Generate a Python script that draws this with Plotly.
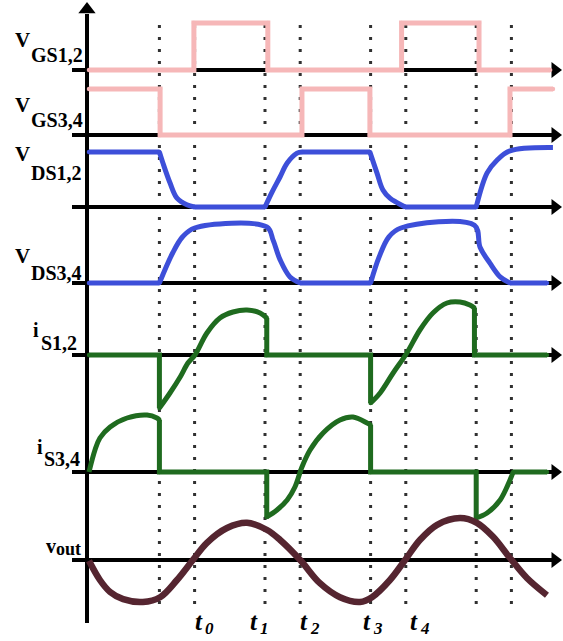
import plotly.graph_objects as go

W, H = 563, 641

# ---------------- data (time in switching-interval units) ----------------
dash_times = [2, 3, 5, 6, 8, 9, 11, 12]
t_label_main = ["t", "t", "t", "t", "t"]
t_label_sub = ["0", "1", "2", "3", "4"]

vgs12_t = [0, 2.98, 2.98, 5.08, 5.08, 8.88, 8.88, 11.08, 11.08, 13.1]
vgs12_v = [0, 0, 1, 1, 0, 0, 1, 1, 0, 0]

vgs34_t = [0, 2.02, 2.02, 6.05, 6.05, 7.98, 7.98, 11.96, 11.96, 13.18]
vgs34_v = [1, 1, 0, 0, 1, 1, 0, 0, 1, 1]

vds12_t = [0, 2.0, 2.1, 2.3, 2.5, 2.78, 3.0, 5.0, 5.2, 5.43, 5.63, 5.91, 6.05,
           7.98, 8.18, 8.35, 8.55, 8.75, 8.98, 11.0, 11.31, 11.59, 11.96, 13.18]
vds12_v = [1, 1, 0.8, 0.44, 0.16, 0.04, 0, 0, 0.27, 0.55, 0.8, 0.98, 1.0,
           1.0, 0.62, 0.31, 0.16, 0.08, 0, 0, 0.62, 0.85, 1.02, 1.08]

vds34_t = [0, 2.0, 2.38, 2.66, 3.0, 5.05, 5.23, 5.43, 5.71, 6.0, 8.0, 8.24, 8.52, 8.86,
           10.95, 11.11, 11.39, 11.68, 11.96, 13.01]
vds34_v = [0, 0, 0.55, 0.84, 1.0, 1.02, 0.78, 0.42, 0.11, 0, 0, 0.47, 0.84, 1.0,
           1.05, 0.65, 0.36, 0.11, 0, 0]

is12_t = [0, 2.0, 2.0, 2.3, 2.59, 2.81, 3.01, 3.35, 3.72, 4.09, 4.49, 4.86, 5.05, 5.05,
          8.0, 8.0, 8.27, 8.64, 9.03, 9.4, 9.77, 10.17, 10.54, 10.82, 10.95, 10.95, 13.01]
is12_v = [0, 0, -1.06, -0.76, -0.44, -0.16, 0, 0.44, 0.74, 0.86, 0.9, 0.84, 0.74, 0,
          0, -0.96, -0.76, -0.36, 0.04, 0.5, 0.84, 1.04, 1.06, 1.0, 0.94, 0, 0]

is34_t = [0, 0.17, 0.31, 0.6, 1.08, 1.65, 1.93, 2.0, 2.0, 5.05, 5.05, 5.34, 5.63, 5.85,
          6.05, 6.28, 6.65, 7.13, 7.5, 7.9, 8.0, 8.0, 11.0, 11.0, 11.31, 11.68, 11.96,
          12.05, 13.01]
is34_v = [0, 0.44, 0.68, 0.9, 1.08, 1.14, 1.08, 1.04, 0, 0, -0.9, -0.76, -0.56, -0.3,
          0.1, 0.44, 0.78, 1.04, 1.1, 0.98, 0.94, 0, 0, -0.92, -0.82, -0.56, -0.16,
          0, 0]

vout_t = [0, 0.31, 0.6, 0.97, 1.53, 2.02, 2.5, 2.95, 3.35, 3.92, 4.49, 5.06, 5.43, 6.0,
          6.56, 7.13, 7.7, 8.04, 8.55, 8.98, 9.4, 9.89, 10.54, 11.02, 11.48, 11.96,
          12.44, 13.01]
vout_v = [-0.02, -0.5, -0.8, -0.98, -1.05, -0.93, -0.5, 0, 0.43, 0.8, 0.93, 0.75, 0.5, 0,
          -0.58, -0.93, -1.05, -0.93, -0.5, 0, 0.5, 0.88, 1.05, 0.93, 0.58, 0.05,
          -0.45, -0.88]

# ---------------- layout of the channels (pixel baseline, px per unit) ----------------
PINK = "#F6B7B8"
BLUE = "#3D4FD9"
GREEN = "#1F6B1F"
MAROON = "#552530"

channels = [
    dict(t=vgs12_t, v=vgs12_v, base=70, scale=47, color=PINK, width=5, smooth=False),
    dict(t=vgs34_t, v=vgs34_v, base=135, scale=46, color=PINK, width=5, smooth=False),
    dict(t=vds12_t, v=vds12_v, base=207, scale=55, color=BLUE, width=5, smooth=True),
    dict(t=vds34_t, v=vds34_v, base=283, scale=55, color=BLUE, width=5, smooth=True),
    dict(t=is12_t, v=is12_v, base=355, scale=50, color=GREEN, width=5, smooth=True),
    dict(t=is34_t, v=is34_v, base=472, scale=50, color=GREEN, width=5, smooth=True),
    dict(t=vout_t, v=vout_v, base=560, scale=40, color=MAROON, width=6.5, smooth=True),
]

X0_PX, UNIT_PX = 89.0, 35.2
x_range = [-X0_PX / UNIT_PX, (W - X0_PX) / UNIT_PX]


def px2t(px):
    return (px - X0_PX) / UNIT_PX


fig = go.Figure()
layout_axes = {}


def split_pieces(ts, vs, smooth):
    """Split into linear pieces (flat / vertical segments) and curved runs."""
    n = len(ts)
    if not smooth:
        return [(ts, vs, "linear")]
    kinds = []
    for i in range(n - 1):
        lin = ts[i] == ts[i + 1] or vs[i] == vs[i + 1]
        kinds.append("linear" if lin else "spline")
    pieces = []
    start = 0
    for i in range(1, n):
        if i == n - 1 or kinds[i] != kinds[start]:
            end = i
            pieces.append((ts[start:end + 1], vs[start:end + 1], kinds[start]))
            start = i
    return pieces


# arrowheads of horizontal axes drawn first (below signals)
for k, ch in enumerate(channels):
    ya = "y%d" % (k + 2)
    layout_axes["yaxis%d" % (k + 2)] = dict(
        domain=[0, 1], overlaying="y", visible=False, fixedrange=True,
        range=[(ch["base"] - H) / ch["scale"], ch["base"] / ch["scale"]])
    fig.add_trace(go.Scatter(x=[px2t(555)], y=[0], yaxis=ya, mode="markers",
                             marker=dict(symbol="triangle-right", size=14, color="black"),
                             hoverinfo="skip"))

fig.add_trace(go.Scatter(x=[px2t(87)], y=[9.5], mode="markers",
                         marker=dict(symbol="triangle-up", size=15, color="black"),
                         hoverinfo="skip"))

for k, ch in enumerate(channels):
    ya = "y%d" % (k + 2)
    for ts, vs, shape in split_pieces(ch["t"], ch["v"], ch["smooth"]):
        fig.add_trace(go.Scatter(
            x=ts, y=vs, yaxis=ya,
            mode="lines+markers" if shape == "linear" else "lines",
            line=dict(color=ch["color"], width=ch["width"], shape=shape, smoothing=1),
            marker=dict(size=ch["width"] - 0.5, color=ch["color"]),
            hoverinfo="skip"))

shapes = []
for t in dash_times:
    shapes.append(dict(type="line", xref="x", yref="y", x0=t, x1=t, y0=25, y1=607,
                       line=dict(color="#303030", width=3, dash="3px,9px"), layer="below"))
for k, ch in enumerate(channels):
    shapes.append(dict(type="line", xref="x", yref="y%d" % (k + 2), x0=px2t(72), x1=px2t(552),
                       y0=0, y1=0, line=dict(color="black", width=4), layer="below"))
shapes.append(dict(type="line", xref="x", yref="y", x0=px2t(87), x1=px2t(87), y0=623, y1=14,
                   line=dict(color="black", width=4), layer="below"))

FONT = "Liberation Serif"


def ann(text, px, py, size, italic=False, bold=True):
    txt = text
    if italic:
        txt = "<i>%s</i>" % txt
    if bold:
        txt = "<b>%s</b>" % txt
    return dict(text=txt, xref="paper", yref="paper", x=px / W, y=1 - py / H,
                xanchor="left", yanchor="middle", showarrow=False,
                font=dict(family=FONT, size=size, color="black"))


annotations = [
    ann("V", 13, 40, 21), ann("GS1,2", 29, 55, 20),
    ann("V", 13, 105, 21), ann("GS3,4", 29, 120, 20),
    ann("V", 13, 154, 21), ann("DS1,2", 29, 173, 20),
    ann("V", 13, 256, 21), ann("DS3,4", 29, 273, 20),
    ann("i", 31, 330, 20), ann("S1,2", 39, 343, 20),
    ann("i", 35, 447, 20), ann("S3,4", 42, 459, 20),
    ann("v", 44, 546, 20), ann("out", 54, 549, 18),
]
for m, s, px in zip(t_label_main, t_label_sub, [193, 248, 298, 361, 408]):
    annotations.append(ann(m, px, 621, 25, italic=True))
    annotations.append(ann(s, px + 10, 628, 17, italic=True))

fig.update_layout(
    width=W, height=H, margin=dict(l=0, r=0, t=0, b=0),
    paper_bgcolor="white", plot_bgcolor="white", showlegend=False,
    xaxis=dict(range=x_range, visible=False, fixedrange=True),
    yaxis=dict(range=[H, 0], visible=False, fixedrange=True),
    shapes=shapes, annotations=annotations, **layout_axes)

fig.write_html("out.html")
